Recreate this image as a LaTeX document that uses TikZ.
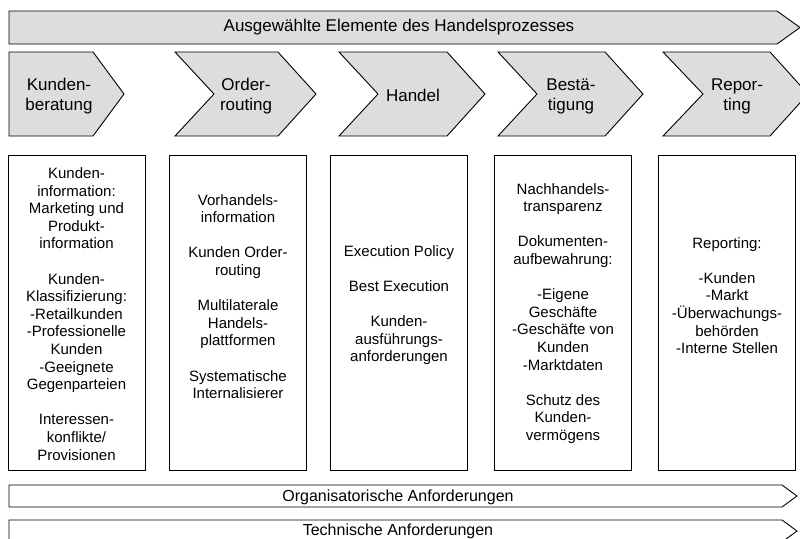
\documentclass[tikz,border=0pt]{standalone}
\usepackage{fontspec}
\setmainfont{Liberation Sans}
\usepackage{tikz}
\definecolor{procgray}{HTML}{DDDDDD}
\tikzset{
  chev/.style={draw=black,fill=procgray,line width=.9pt,line join=miter},
  bar/.style={draw=black,line width=.9pt},
  box/.style={draw=black,line width=.9pt,minimum width=137pt,minimum height=315pt,inner sep=0pt},
  btxt/.style={align=center,font=\fontsize{15}{17.6}\selectfont,inner sep=0pt},
  ctxt/.style={align=center,font=\fontsize{17}{20}\selectfont,inner sep=0pt},
}

\begin{document}
\begin{tikzpicture}[x=1pt,y=-1pt]
\useasboundingbox (0,0) rectangle (800,538);
\clip (0,0) rectangle (800,538);

% process bar on top
\draw[chev] (9,11) -- (777,11) -- (800,27.5) -- (777,44) -- (9,44) -- cycle;
\node[ctxt] (proc) at (399,27.5) {Ausgewählte Elemente des Handelsprozesses};

% the five steps
\draw[chev] (9,52) -- (93,52) -- (124,94) -- (93,136) -- (9,136) -- cycle;
\draw[chev] (175,52) -- (278,52) -- (316,94) -- (278,136) -- (175,136) -- (214,94) -- cycle;
\draw[chev] (339,52) -- (447,52) -- (485,94) -- (447,136) -- (339,136) -- (378,94) -- cycle;
\draw[chev] (498,52) -- (605,52) -- (643,94) -- (605,136) -- (498,136) -- (537,94) -- cycle;
\draw[chev] (663,52) -- (770,52) -- (808,94) -- (770,136) -- (663,136) -- (703,94) -- cycle;
\node[ctxt] (s1) at (59,96) {Kunden-\\beratung};
\node[ctxt] (s2) at (246,96) {Order-\\routing};
\node[ctxt] (s3) at (413,95) {Handel};
\node[ctxt] (s4) at (571,96) {Bestä-\\tigung};
\node[ctxt] (s5) at (737,96) {Repor-\\ting};

% requirement boxes
\node[box] (b1) at (76.5,312.5) {};
\node[box] (b2) at (238,312.5) {};
\node[box] (b3) at (399,312.5) {};
\node[box] (b4) at (563,312.5) {};
\node[box] (b5) at (727,312.5) {};

\node[btxt] (t1) at (76.5,314) {Kunden-\\information:\\Marketing und\\Produkt-\\information\\[17.6pt]
  Kunden-\\Klassifizierung:\\-Retailkunden\\-Professionelle\\Kunden\\-Geeignete\\Gegenparteien\\[17.6pt]
  Interessen-\\konflikte/\\Provisionen};
\node[btxt] (t2) at (238,296.5) {Vorhandels-\\information\\[17.6pt]
  Kunden Order-\\routing\\[17.6pt]
  Multilaterale\\Handels-\\plattformen\\[17.6pt]
  Systematische\\Internalisierer};
\node[btxt] (t3) at (399,305) {Execution Policy\\[17.6pt]
  Best Execution\\[17.6pt]
  Kunden-\\ausführungs-\\anforderungen};
\node[btxt] (t4) at (563,313.5) {Nachhandels-\\transparenz\\[17.6pt]
  Dokumenten-\\aufbewahrung:\\[17.6pt]
  -Eigene\\Geschäfte\\-Geschäfte von\\Kunden\\-Marktdaten\\[17.6pt]
  Schutz des\\Kunden-\\vermögens};
\node[btxt] (t5) at (727,295.5) {Reporting:\\[17.6pt]
  -Kunden\\-Markt\\-Überwachungs-\\behörden\\-Interne Stellen};

% requirement bars at the bottom
\draw[bar] (9,485) -- (782,485) -- (797,496) -- (782,507) -- (9,507) -- cycle;
\draw[bar] (9,520) -- (782,520) -- (797,531) -- (782,542) -- (9,542) -- cycle;
\node[btxt,font=\fontsize{16}{18}\selectfont] (org) at (398,497) {Organisatorische Anforderungen};
\node[btxt,font=\fontsize{16}{18}\selectfont] (tech) at (398,531) {Technische Anforderungen};
\end{tikzpicture}
\end{document}
